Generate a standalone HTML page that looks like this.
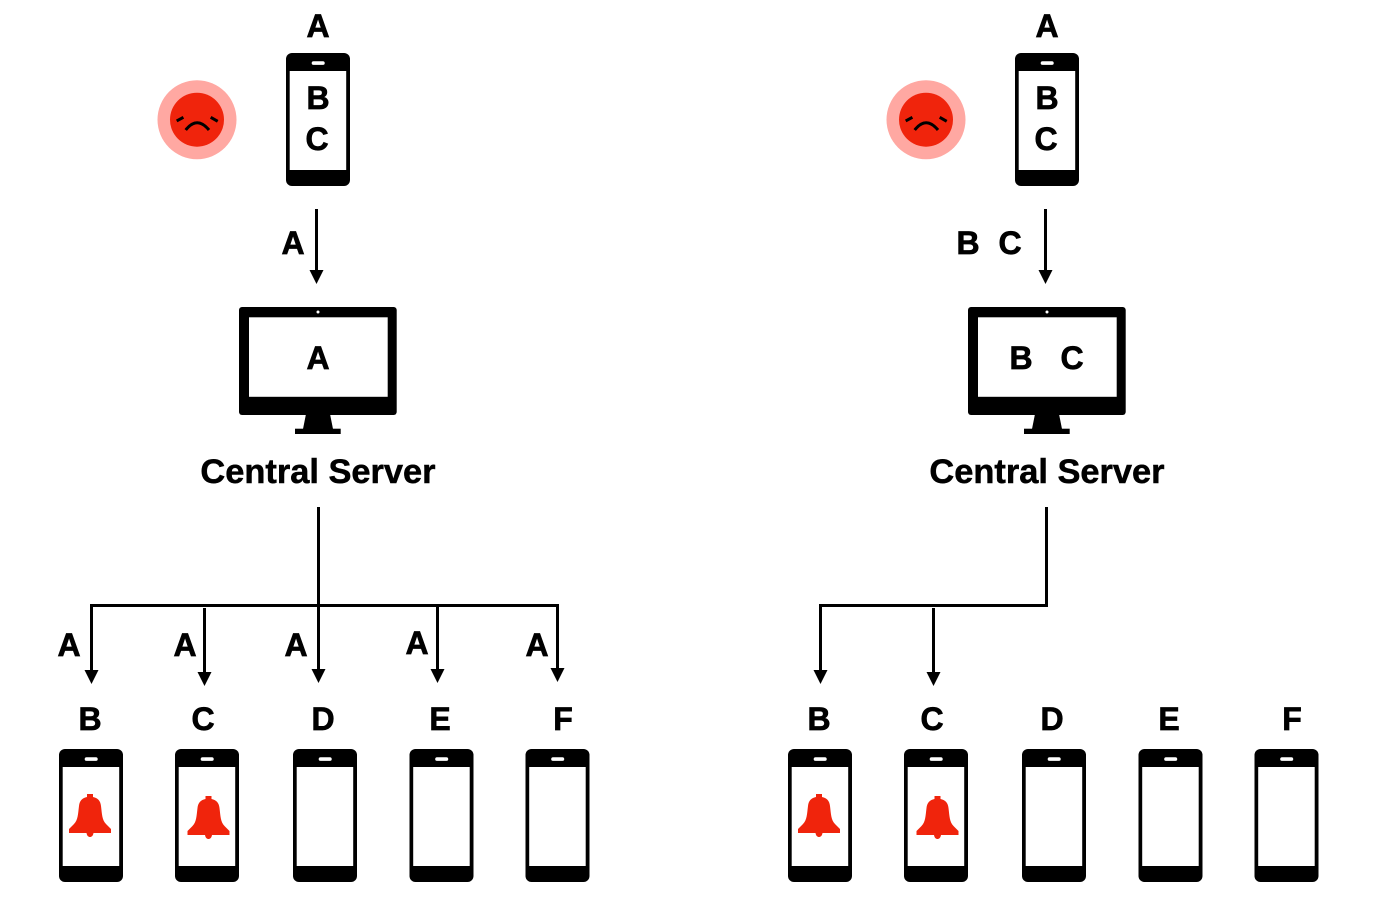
<!DOCTYPE html>
<html><head><meta charset="utf-8"><style>
html,body{margin:0;padding:0;background:#fff}
svg{display:block}
text{font-family:"Liberation Sans",sans-serif;font-weight:bold;fill:#000;text-anchor:middle;stroke:#000;stroke-width:.7px}
.l{font-size:32px}
.t{font-size:34.4px;stroke-width:.5px}
</style></head><body>
<svg width="1374" height="906" viewBox="0 0 1374 906" xmlns="http://www.w3.org/2000/svg">
<defs>
<g id="phone">
<rect x="0" y="0" width="64" height="133" rx="6" fill="#000"/>
<rect x="3.700" y="18" width="56.500" height="99" fill="#fff"/>
<rect x="25.700" y="8.300" width="13" height="3.600" rx="1.800" fill="#fff"/>
</g>
<g id="mon">
<rect x="239" y="307" width="157.700" height="108" rx="3" fill="#000"/>
<rect x="249" y="317.300" width="138.700" height="79.500" fill="#fff"/>
<circle cx="318" cy="312" r="1.500" fill="#fff"/>
<path d="M306 414L330 414L333 429L303 429Z" fill="#000"/>
<rect x="295" y="428.700" width="45.700" height="5.300" fill="#000"/>
</g>
<g id="face">
<circle cx="197" cy="119.700" r="39.500" fill="#ffa8a2"/>
<circle cx="197" cy="119.700" r="27" fill="#f0240c"/>
<path d="M176.700 120.900L183.400 117.300M217.700 121.300L210.700 117.300" stroke="#000" stroke-width="3" fill="none"/>
<path d="M185.700 130Q197 115.500 209 130" stroke="#000" stroke-width="3" fill="none"/>
</g>
<path id="bell" d="M-3 0H3V3C8 4 10.500 7 11 12C12 20 12 26 16 30L21 35V39H3.500C3 42 1.500 43 0 43C-1.500 43-3 42-3.500 39H-21V35L-16 30C-12 26-12 20-11 12C-10.500 7-8 4-3 3Z" fill="#f0240c"/>
</defs>

<!-- left -->
<use href="#face"/>
<use href="#phone" x="286" y="53"/>
<use href="#mon"/>
<text class="l" x="318" y="37">A</text>
<text class="l" x="318" y="109">B</text>
<text class="l" x="317" y="150">C</text>
<text class="l" x="293" y="254">A</text>
<text class="l" x="318" y="369">A</text>
<text class="t" x="318" y="483">Central Server</text>
<g stroke="#000" stroke-width="3" fill="none">
<path d="M316.500 209V272"/>
<path d="M318.500 507V672"/>
<path d="M91.500 672V605.500H557.500V670"/>
<path d="M204.500 608V674"/>
<path d="M437.500 606V670"/>
</g>
<g fill="#000">
<path d="M309.500 270H323.500L316.500 284Z"/>
<path d="M311.500 669H325.500L318.500 683Z"/>
<path d="M84.500 670H98.500L91.500 684Z"/>
<path d="M197.500 672H211.500L204.500 686Z"/>
<path d="M430.500 669H444.500L437.500 683Z"/>
<path d="M550.500 668H564.500L557.500 682Z"/>
</g>
<text class="l" x="69" y="656">A</text>
<text class="l" x="185" y="656">A</text>
<text class="l" x="296" y="656">A</text>
<text class="l" x="417" y="654">A</text>
<text class="l" x="537" y="656">A</text>
<text class="l" x="90" y="730">B</text>
<text class="l" x="203" y="730">C</text>
<text class="l" x="323" y="730">D</text>
<text class="l" x="440" y="730">E</text>
<text class="l" x="563" y="730">F</text>
<use href="#phone" x="59" y="749"/>
<use href="#phone" x="175" y="749"/>
<use href="#phone" x="293" y="749"/>
<use href="#phone" x="409.500" y="749"/>
<use href="#phone" x="525.500" y="749"/>
<use href="#bell" x="90" y="794"/>
<use href="#bell" x="208.500" y="796"/>

<!-- right -->
<use href="#face" x="729"/>
<use href="#phone" x="1015" y="53"/>
<use href="#mon" x="729"/>
<text class="l" x="1047" y="37">A</text>
<text class="l" x="1047" y="109">B</text>
<text class="l" x="1046" y="150">C</text>
<text class="l" x="968" y="254">B</text>
<text class="l" x="1010" y="254">C</text>
<text class="l" x="1021" y="369">B</text>
<text class="l" x="1072" y="369">C</text>
<text class="t" x="1047" y="483">Central Server</text>
<g stroke="#000" stroke-width="3" fill="none">
<path d="M1045.500 209V272"/>
<path d="M1046.500 507V605.500H820.500V672"/>
<path d="M933.500 608V674"/>
</g>
<g fill="#000">
<path d="M1038.500 270H1052.500L1045.500 284Z"/>
<path d="M813.500 670H827.500L820.500 684Z"/>
<path d="M926.500 672H940.500L933.500 686Z"/>
</g>
<text class="l" x="819" y="730">B</text>
<text class="l" x="932" y="730">C</text>
<text class="l" x="1052" y="730">D</text>
<text class="l" x="1169" y="730">E</text>
<text class="l" x="1292" y="730">F</text>
<use href="#phone" x="788" y="749"/>
<use href="#phone" x="904" y="749"/>
<use href="#phone" x="1022" y="749"/>
<use href="#phone" x="1138.500" y="749"/>
<use href="#phone" x="1254.500" y="749"/>
<use href="#bell" x="819" y="794"/>
<use href="#bell" x="937.500" y="796"/>
</svg>
</body></html>
